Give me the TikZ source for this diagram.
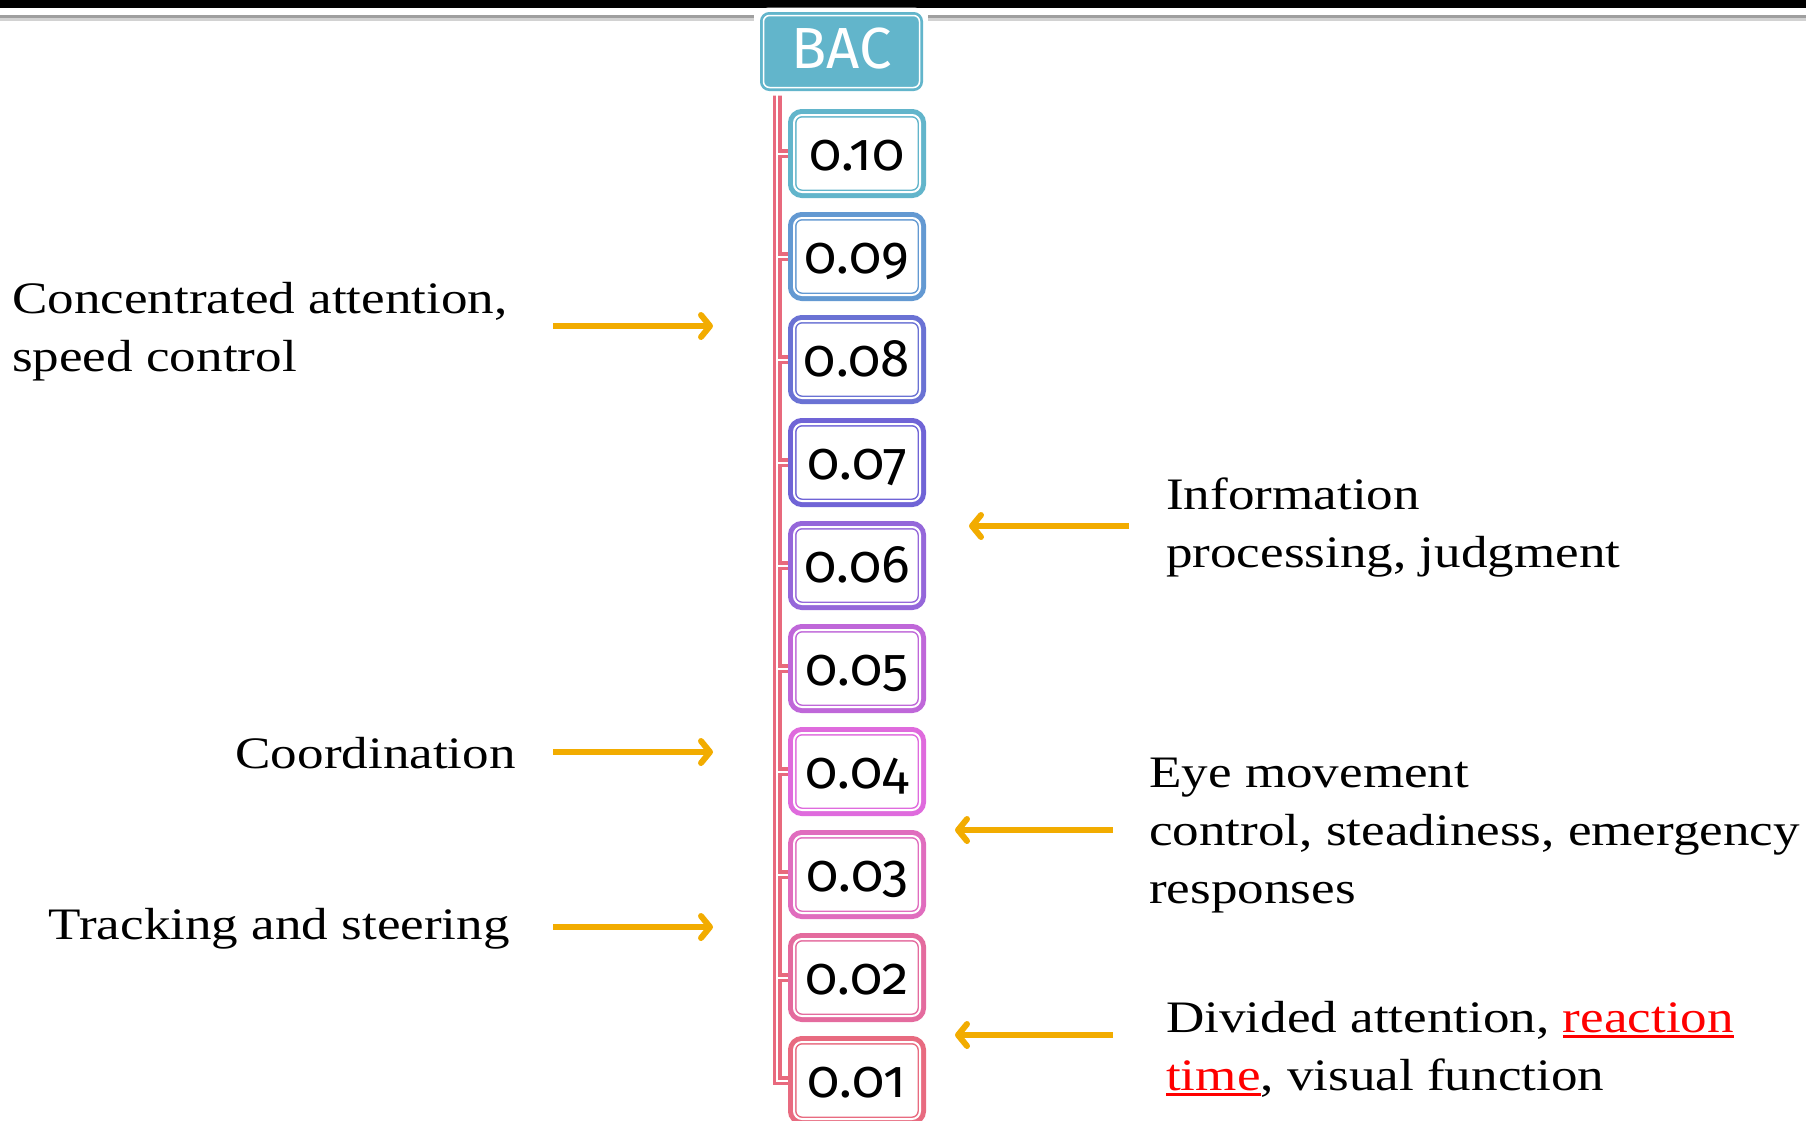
\documentclass[tikz,border=0pt]{standalone}
\usepackage{fontspec}
\setmainfont{Liberation Serif}[FakeStretch=1.18]
\newfontfamily\numfont[Numbers=OldStyle]{Fira Sans}
\usepackage{xcolor}
\usetikzlibrary{arrows.meta,backgrounds}

\definecolor{bacblue}{HTML}{62B5CB}
\definecolor{lvl10}{HTML}{62B5CB}
\definecolor{lvl09}{HTML}{6399D2}
\definecolor{lvl08}{HTML}{6A72D4}
\definecolor{lvl07}{HTML}{7064D6}
\definecolor{lvl06}{HTML}{9567DA}
\definecolor{lvl05}{HTML}{BF67D9}
\definecolor{lvl04}{HTML}{DF6BDD}
\definecolor{lvl03}{HTML}{E06DBE}
\definecolor{lvl02}{HTML}{E46B9E}
\definecolor{lvl01}{HTML}{E86B80}
\definecolor{spinered}{HTML}{E8697D}
\definecolor{arrowgold}{HTML}{F2AC00}

\newcommand{\reduline}[1]{\textcolor{red}{\setbox0=\hbox{#1}\rlap{\rule[-6bp]{\wd0}{3bp}}\box0}}

\tikzset{
  bacbox/.style={draw=white, line width=1.5bp, rounded corners=6bp,
    preaction={draw=white, line width=16bp},
    preaction={fill=bacblue, draw=bacblue, line width=7bp},
    minimum width=156bp, minimum height=72bp, inner sep=0pt,
    text height=40bp, text depth=7bp, text=white,
    font=\numfont\fontsize{58bp}{62bp}\selectfont},
  levelbox/.style={draw=#1, fill=white, line width=1.5bp,
    double=white, double distance=2bp,
    preaction={draw=#1, line width=12bp},
    rounded corners=8bp, minimum width=126bp, minimum height=77bp,
    inner sep=0pt, text height=40bp, text depth=7bp,
    font=\numfont\fontsize{53bp}{58bp}\selectfont},
  spine/.style={draw=white, line width=2bp,
    preaction={draw=spinered, line width=9bp}},
  arr/.style={draw=arrowgold, line width=6bp,
    -{Straight Barb[length=9bp,width=22bp,round]}},
  txt/.style={inner sep=0pt, align=left,
    font=\fontsize{45bp}{58bp}\selectfont}
}

\begin{document}
\begin{tikzpicture}[x=1bp,y=-1bp]
  \useasboundingbox (0,0) rectangle (1806,1120);
  % top rule
  \fill[black] (0,0) rectangle (1806,8);
  \fill[gray!75] (0,15) rectangle (754,18);
  \fill[gray!35] (0,18) rectangle (754,21);
  \fill[gray!75] (928,15) rectangle (1806,18);
  \fill[gray!35] (928,18) rectangle (1806,21);

  % BAC scale
  \node[bacbox] (bac) at (841.5,51.5) {BAC};
  \node[levelbox=lvl10] (b10) at (857,153.5) {0.10};
  \node[levelbox=lvl09] (b09) at (857,256.5) {0.09};
  \node[levelbox=lvl08] (b08) at (857,359.5) {0.08};
  \node[levelbox=lvl07] (b07) at (857,462.5) {0.07};
  \node[levelbox=lvl06] (b06) at (857,565.5) {0.06};
  \node[levelbox=lvl05] (b05) at (857,668.5) {0.05};
  \node[levelbox=lvl04] (b04) at (857,771.5) {0.04};
  \node[levelbox=lvl03] (b03) at (857,874.5) {0.03};
  \node[levelbox=lvl02] (b02) at (857,977.5) {0.02};
  \node[levelbox=lvl01] (b01) at (857,1080.5) {0.01};

  \coordinate (spinetop) at (777,88);
  \begin{scope}[on background layer]
    \draw[spine] (spinetop) |- (b01.west)
      (b10.west -| spinetop) -- (b10.west)
      (b09.west -| spinetop) -- (b09.west)
      (b08.west -| spinetop) -- (b08.west)
      (b07.west -| spinetop) -- (b07.west)
      (b06.west -| spinetop) -- (b06.west)
      (b05.west -| spinetop) -- (b05.west)
      (b04.west -| spinetop) -- (b04.west)
      (b03.west -| spinetop) -- (b03.west)
      (b02.west -| spinetop) -- (b02.west);
  \end{scope}

  % effects
  \node[txt, anchor=west] (conc) at (12,332) {Concentrated attention,\\speed control};
  \node[txt, anchor=east] (coord) at (516,753) {Coordination};
  \node[txt, anchor=east] (track) at (510,929) {Tracking and steering};
  \node[txt, anchor=west] (info) at (1166,528) {Information\\processing, judgment};
  \node[txt, anchor=west] (eye) at (1149,836) {Eye movement\\control, steadiness, emergency\\responses};
  \node[txt, anchor=west] (divided) at (1166,1049) {Divided attention, \reduline{reaction}\\\reduline{time}, visual function};

  \coordinate (concfrom) at (553,326);
  \coordinate (concto) at (713,326);
  \coordinate (coordfrom) at (553,752);
  \coordinate (coordto) at (713,752);
  \coordinate (trackfrom) at (553,927);
  \coordinate (trackto) at (713,927);
  \coordinate (infofrom) at (1129,526);
  \coordinate (infoto) at (969,526);
  \coordinate (eyefrom) at (1113,830);
  \coordinate (eyeto) at (955,830);
  \coordinate (dividedfrom) at (1113,1035);
  \coordinate (dividedto) at (955,1035);
  \draw[arr] (concfrom) -- (concto);
  \draw[arr] (coordfrom) -- (coordto);
  \draw[arr] (trackfrom) -- (trackto);
  \draw[arr] (infofrom) -- (infoto);
  \draw[arr] (eyefrom) -- (eyeto);
  \draw[arr] (dividedfrom) -- (dividedto);
\end{tikzpicture}
\end{document}
